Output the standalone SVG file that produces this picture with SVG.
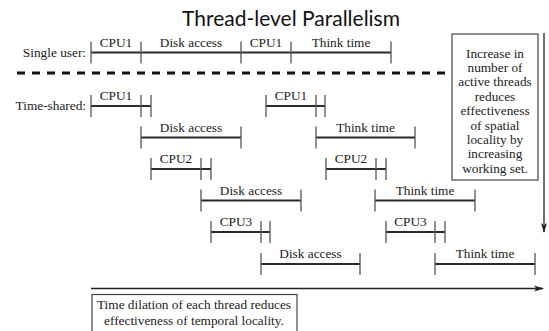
<svg xmlns="http://www.w3.org/2000/svg" width="549" height="331" viewBox="0 0 549 331">
<style>
.bg{fill:#fff}
.title{font-family:Lato,sans-serif;font-size:21px;fill:#111}
.t{font-family:Liberation Serif,DejaVu Serif,serif;font-size:13.3px;fill:#222}
.c{text-anchor:middle}
.r{text-anchor:end}
.bar{stroke:#2a2a2a;stroke-width:2;fill:none}
.tick{stroke:#555;stroke-width:1.3;fill:none}
.box{fill:#fff;stroke:#444;stroke-width:1.2}
.dash{stroke:#111;stroke-width:3;stroke-dasharray:8 7;fill:none}
.ax{stroke:#222;stroke-width:1.3;fill:none}
</style>
<defs>
<marker id="ah" markerWidth="10" markerHeight="8" refX="9" refY="4" orient="auto" markerUnits="userSpaceOnUse">
<path d="M0,1 L10,4 L0,7 L2.5,4 Z" fill="#222"/>
</marker>
</defs>
<rect class="bg" x="0" y="0" width="549" height="331"/>
<text class="title c" x="291" y="26" textLength="218" lengthAdjust="spacingAndGlyphs">Thread-level Parallelism</text>

<g id="labels">
<text class="t r" x="86" y="57">Single user:</text>
<text class="t r" x="86" y="110">Time-shared:</text>
</g>

<g id="single-user">
<path class="bar" d="M91,52.5 H391"/>
<path class="tick" d="M91,41.5 V63.5 M141,41.5 V63.5 M241,41.5 V63.5 M291,41.5 V63.5 M391,41.5 V63.5"/>
<text class="t c" x="116" y="46.5">CPU1</text>
<text class="t c" x="191" y="46.5">Disk access</text>
<text class="t c" x="266" y="46.5">CPU1</text>
<text class="t c" x="341" y="46.5">Think time</text>
</g>

<path class="dash" d="M17,73 H452"/>

<g id="thread1">
<path class="bar" d="M91,106 H151 M266,106 H325"/>
<path class="tick" d="M91,95 V117 M141,95 V117 M151,95 V117 M266,95 V117 M316,95 V117 M325,95 V117"/>
<text class="t c" x="116" y="100">CPU1</text>
<text class="t c" x="291" y="100">CPU1</text>
<path class="bar" d="M141,137.5 H241 M316,137.5 H415"/>
<path class="tick" d="M141,126.5 V148.5 M241,126.5 V148.5 M316,126.5 V148.5 M415,126.5 V148.5"/>
<text class="t c" x="191" y="131.5">Disk access</text>
<text class="t c" x="365.5" y="131.5">Think time</text>
</g>

<g id="thread2">
<path class="bar" d="M151,169 H211 M326,169 H386"/>
<path class="tick" d="M151,158 V180 M201,158 V180 M211,158 V180 M326,158 V180 M376,158 V180 M386,158 V180"/>
<text class="t c" x="176" y="163">CPU2</text>
<text class="t c" x="351" y="163">CPU2</text>
<path class="bar" d="M201,200.5 H301 M375,200.5 H475"/>
<path class="tick" d="M201,189.5 V211.5 M301,189.5 V211.5 M375,189.5 V211.5 M475,189.5 V211.5"/>
<text class="t c" x="251" y="194.5">Disk access</text>
<text class="t c" x="425" y="194.5">Think time</text>
</g>

<g id="thread3">
<path class="bar" d="M211,232 H270 M386,232 H445"/>
<path class="tick" d="M211,221 V243 M261,221 V243 M270,221 V243 M386,221 V243 M435,221 V243 M445,221 V243"/>
<text class="t c" x="236" y="226">CPU3</text>
<text class="t c" x="410.5" y="226">CPU3</text>
<path class="bar" d="M261,264 H360 M435,264 H535"/>
<path class="tick" d="M261,253 V275 M360,253 V275 M435,253 V275 M535,253 V275"/>
<text class="t c" x="310.5" y="258">Disk access</text>
<text class="t c" x="485" y="258">Think time</text>
</g>

<g id="connectors">
<path class="ax" d="M91,288.5 H543" marker-end="url(#ah)"/>
<path class="ax" d="M544,33 V232" marker-end="url(#ah)"/>
</g>

<g id="spatial-note">
<rect class="box" x="452" y="34" width="86" height="146"/>
<text class="t c" x="495" y="57.5">Increase in</text>
<text class="t c" x="495" y="71.9">number of</text>
<text class="t c" x="495" y="86.3">active threads</text>
<text class="t c" x="495" y="100.7">reduces</text>
<text class="t c" x="495" y="115.1">effectiveness</text>
<text class="t c" x="495" y="129.5">of spatial</text>
<text class="t c" x="495" y="143.9">locality by</text>
<text class="t c" x="495" y="158.3">increasing</text>
<text class="t c" x="495" y="172.7">working set.</text>
</g>

<g id="temporal-note">
<rect class="box" x="92" y="294.5" width="205" height="45"/>
<text class="t c" x="194" y="309">Time dilation of each thread reduces</text>
<text class="t c" x="194" y="325">effectiveness of temporal locality.</text>
</g>
</svg>
